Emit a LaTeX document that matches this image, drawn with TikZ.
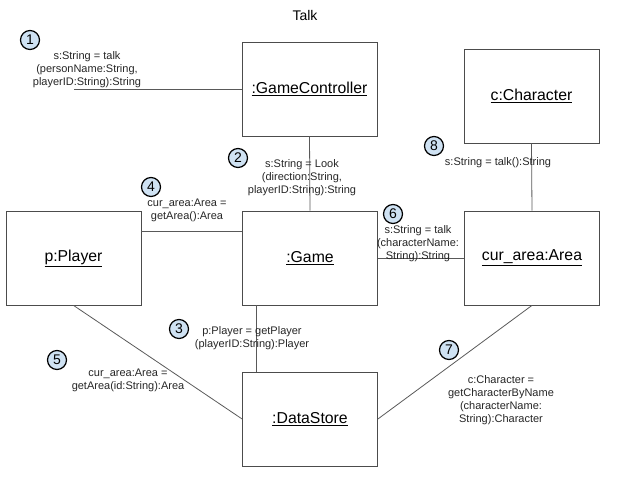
\documentclass[tikz,border=0pt]{standalone}
\usepackage{fontspec}
\setmainfont{Liberation Sans}
\usepackage{tikz}
\usetikzlibrary{shapes, arrows, calc, positioning}
\definecolor{numfill}{HTML}{CFE2F3}

\begin{document}
\begin{tikzpicture}[x=1pt, y=-1pt, font=\fontsize{11}{13}\selectfont]
	\tikzstyle{object} = [draw=black!70, thick, rectangle, minimum width=135pt, minimum height=94pt, inner sep=0pt, font=\fontsize{15.8}{18}\selectfont]
	\tikzstyle{seqnum} = [draw, line width=1.2pt, circle, fill=numfill, minimum size=19pt, inner sep=0pt, font=\fontsize{14}{14}\selectfont]
	\tikzstyle{msg} = [align=center, inner sep=0pt, text=black!85]
	\tikzstyle{link} = [draw=black!65, thick]

	\useasboundingbox (0,0) rectangle (625,477);

	\node[font=\fontsize{14}{14}\selectfont] (title) at (305,15) {Talk};

	\begin{scope}
		\path
			node[object] (gc) at (309.5,89) {\underline{:GameController}}
			node[object] (game) at (310,258) {\underline{:Game}}
			node[object] (player) at (73.5,258) {\underline{p:Player}}
			node[object] (area) at (532,258) {\underline{cur\_area:Area}}
			node[object] (char) at (531.5,96) {\underline{c:Character}}
			node[object] (ds) at (310,419) {\underline{:DataStore}}
			coordinate (start) at (74,89)
		;

		% links
		\draw[link] (start) -- (gc.west);
		\draw[link] (gc.south) -- (game.north);
		\draw[link] ([xshift=-54pt]game.south) -- ([xshift=-54pt]ds.north);
		\draw[link] ([yshift=27pt]player.east) -- ([yshift=27pt]game.west);
		\draw[link] (player.south) -- (ds.west);
		\draw[link] (game.east) -- (area.west);
		\draw[link] (area.south) -- (ds.east);
		\draw[link] (char.south) -- (area.north);

		% messages
		\path
			node[msg] (m1) at (87,70) {s:String = talk\\(personName:String,\\playerID:String):String}
			node[msg] (m2) at (302,178) {s:String = Look\\(direction:String,\\playerID:String):String}
			node[msg] (m3) at (252,338) {p:Player = getPlayer\\(playerID:String):Player}
			node[msg] (m4) at (187,210) {cur\_area:Area =\\getArea():Area}
			node[msg] (m5) at (128,380) {cur\_area:Area =\\getArea(id:String):Area}
			node[msg] (m6) at (418,244) {s:String = talk\\(characterName:\\String):String}
			node[msg] (m7) at (501,400) {c:Character =\\getCharacterByName\\(characterName:\\String):Character}
			node[msg] (m8) at (498,163) {s:String = talk():String}
		;

		% sequence numbers
		\path
			node[seqnum] (n1) at (30,40) {1}
			node[seqnum] (n2) at (238,158) {2}
			node[seqnum] (n3) at (179,329) {3}
			node[seqnum] (n4) at (151,187) {4}
			node[seqnum] (n5) at (57,360) {5}
			node[seqnum] (n6) at (393,214) {6}
			node[seqnum] (n7) at (449,350) {7}
			node[seqnum] (n8) at (434,146) {8}
		;
	\end{scope}
\end{tikzpicture}
\end{document}
